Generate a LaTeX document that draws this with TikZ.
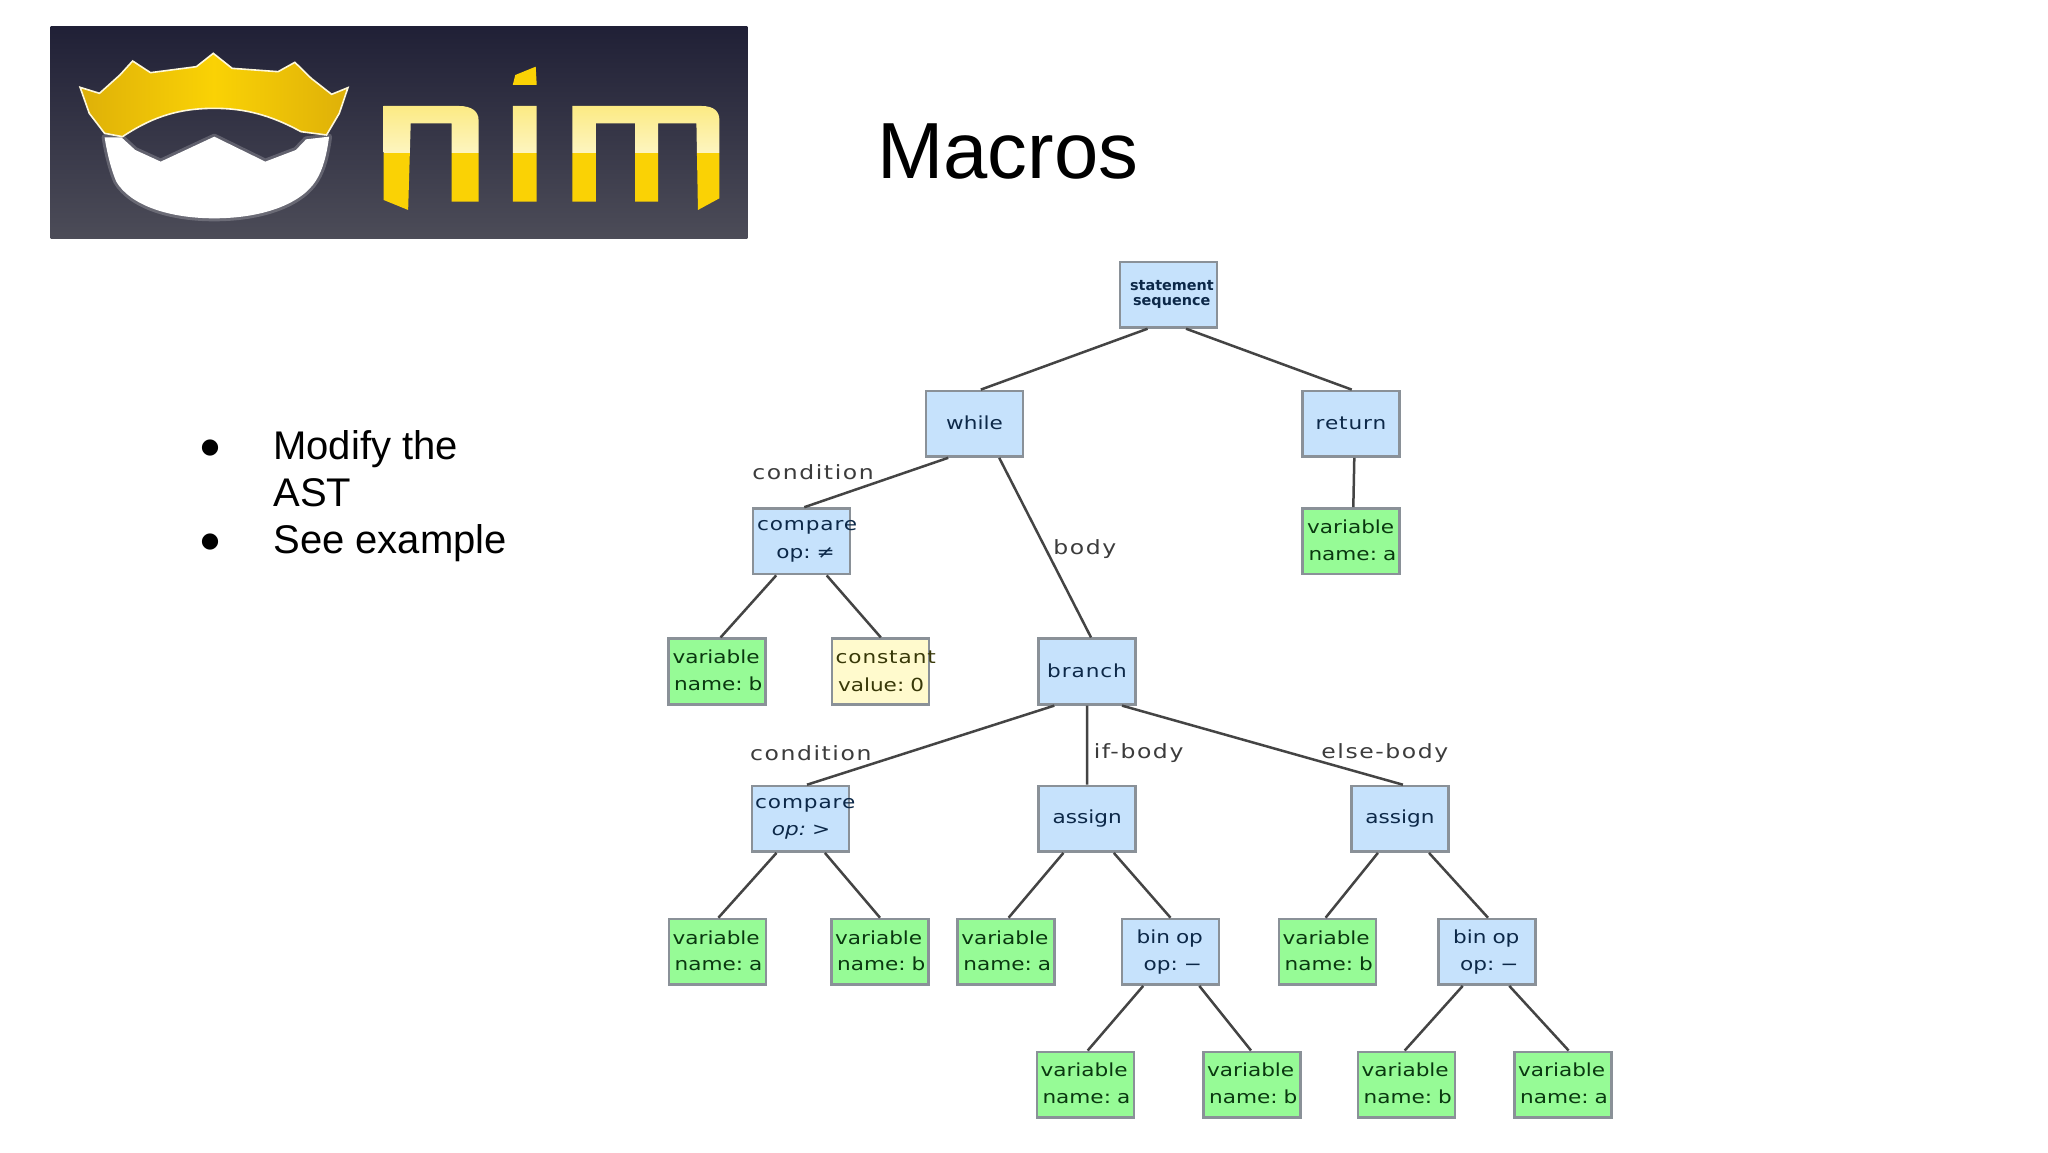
\documentclass[tikz,border=0pt]{standalone}
\usepackage{fontspec}
\setmainfont{Liberation Sans}
\newfontfamily\treefont{DejaVu Sans}[FakeStretch=1.2]
\newfontfamily\edgefont{DejaVu Sans}[FakeStretch=1.2,LetterSpace=8]
\newfontfamily\widefont{DejaVu Sans}[FakeStretch=1.2,LetterSpace=5]
\newfontfamily\dotfont{DejaVu Sans}
\usetikzlibrary{calc}
\definecolor{ast_blue}{RGB}{198, 226, 252}
\definecolor{ast_green}{RGB}{150, 251, 150}
\definecolor{ast_yellow}{RGB}{255, 250, 205}
\definecolor{ast_border}{RGB}{138, 145, 152}
\definecolor{ast_edge}{RGB}{68, 68, 68}
\definecolor{logo_top}{RGB}{32, 32, 54}
\definecolor{logo_mid}{RGB}{40, 40, 64}
\definecolor{logo_low}{RGB}{76, 76, 88}
\definecolor{gold_dark}{RGB}{222, 176, 8}
\definecolor{gold}{RGB}{250, 210, 5}
\definecolor{gold_pale}{RGB}{252, 238, 150}
\tikzset{
  box/.style={draw=ast_border, line width=1.3pt, inner sep=0pt, minimum width=48.5pt,
    minimum height=32.8pt, text width=48.5pt, font=\treefont\fontsize{9}{13.3}\selectfont},
  opnode/.style={box, fill=ast_blue, text={rgb,255:red,12;green,40;blue,72}},
  varnode/.style={box, fill=ast_green, text={rgb,255:red,10;green,56;blue,16}, align=left},
  constnode/.style={box, fill=ast_yellow, text={rgb,255:red,56;green,56;blue,8}, align=left},
  edge/.style={draw=ast_edge, line width=1.25pt},
  edgelabel/.style={anchor=base west, inner sep=0pt, text={rgb,255:red,60;green,60;blue,60},
    font=\edgefont\fontsize{9.8}{11}\selectfont},
  bullet/.style={anchor=base, inner sep=0pt, font=\dotfont\fontsize{10.6}{13}\selectfont},
  bullettext/.style={inner sep=0pt, align=left, font=\fontsize{20}{23.5}\selectfont}
}
% one line of a box: [raise], distance from the left edge of the box, text
\newcommand\tline[3][0]{\hspace*{#2pt}\raisebox{#1pt}{\mbox{#3}}}
\newcommand\varlines[3]{\tline[1.2]{#1}{variable}\\\tline[1.2]{#2}{name:~#3}}
\newcommand\treeedge[4]{\draw[edge] ($(#1.south)+(#2,0)$) -- ($(#3.north)+(#4,0)$);}
\begin{document}
\begin{tikzpicture}[x=0.5pt, y=-0.5pt]
  \useasboundingbox (0,0) rectangle (2048,1152);
  \fill[white] (0,0) rectangle (2048,1152);

  % Logo, drawn in the coordinates of the crop
  \begin{scope}[xscale=0.5102, yscale=0.3333]
    \shade[top color=logo_top, middle color=logo_mid, bottom color=logo_low]
      (99,80) rectangle (1465,717);
    % beard
    \filldraw[white, draw opacity=0.2, line width=3pt, line join=round]
      (205,412) -- (238,412) -- (265,450) -- (315,485) -- (420,410) -- (520,485)
      -- (580,450) -- (600,418) -- (645,410) .. controls (640,470) and (632,510) .. (620,540)
      .. controls (590,615) and (510,655) .. (420,655)
      .. controls (330,655) and (255,615) .. (228,545) .. controls (218,510) and (210,460) .. cycle;
    % crown
    \draw[white!85!gold, line width=0.8pt, left color=gold_dark, right color=gold_dark, middle color=gold]
      (157,262) -- (195,280) -- (235,225) -- (260,183) -- (295,218) -- (385,200) -- (418,160)
      -- (455,205) -- (545,215) -- (578,187) -- (610,235) -- (650,283) -- (682,263)
      -- (665,340) -- (640,405) -- (590,395) .. controls (530,345) and (480,325) .. (420,325)
      .. controls (340,325) and (290,360) .. (240,410) -- (205,400) -- (175,340) -- cycle;
    % letters
    \begin{scope}
      \clip (752,318) -- (900,318) .. controls (925,318) and (938,335) .. (938,360) -- (938,605)
        -- (885,605) -- (885,370) -- (805,370) -- (800,630) -- (752,600) -- cycle
        (1005,318) -- (1052,318) -- (1052,605) -- (1005,605) -- cycle
        (1122,318) -- (1375,318) .. controls (1400,318) and (1410,335) .. (1410,360) -- (1410,595)
        -- (1368,630) -- (1365,370) -- (1290,370) -- (1290,605) -- (1245,605) -- (1245,370)
        -- (1168,370) -- (1168,605) -- (1122,605) -- cycle;
      \shade[top color=gold_pale!85!gold, bottom color=gold_pale!60!white] (740,310) rectangle (1420,458);
      \fill[gold] (740,458) rectangle (1420,640);
    \end{scope}
    \fill[gold] (1005,255) -- (1010,225) -- (1050,200) -- (1052,255) -- cycle;
  \end{scope}

  % Title and list
  \node[anchor=base west, inner sep=0pt, font=\fontsize{39.8}{48}\selectfont] (title) at (877,178) {Macros};
  \node[bullet] (dota) at (210,453.7) {●};
  \node[bullettext, anchor=north west] (itema) at (273,430.5) {Modify the\\AST};
  \node[bullet] (dotb) at (210,547.7) {●};
  \node[bullettext, anchor=base west] (itemb) at (273,553) {See example};

  % Tree nodes
  \node[opnode, align=left, font=\dotfont\bfseries\fontsize{7.2}{7.8}\selectfont] (st) at (1168.6,294.6)
    {\tline{5}{statement}\\\tline{6.5}{sequence}};
  \node[opnode, align=center] (wh) at (974.5,423.7) {\raisebox{1pt}{while}};
  \node[opnode, align=center] (rt) at (1351,423.7) {{\widefont return}};
  \node[opnode, align=left] (cpa) at (801.5,541.3) {\tline[0.4]{2}{\widefont compare}\\\tline{11.7}{op:~≠}};
  \node[varnode] (vra) at (1351,541.3) {\varlines{2.3}{3}{a}};
  \node[varnode] (vb) at (717,671.5) {\varlines{2}{2.8}{b}};
  \node[constnode] (co) at (880.5,671.5) {\tline[1.2]{1.8}{\widefont constant}\\\tline[0.4]{3}{value:~0}};
  \node[opnode, align=center] (br) at (1087,671.5) {\raisebox{0.5pt}{{\widefont branch}}};
  \node[opnode, align=left] (cpb) at (800.4,818.8) {\tline[-1]{1.6}{\widefont compare}\\\tline[-0.8]{10}{{\itshape op:}~>}};
  \node[opnode, align=center] (asa) at (1087.2,818.8) {\raisebox{0.7pt}{assign}};
  \node[opnode, align=center] (asb) at (1400,818.8) {\raisebox{0.7pt}{assign}};
  \node[varnode] (lca) at (717.5,951.8) {\varlines{1.8}{2.8}{a}};
  \node[varnode] (lcb) at (880,951.8) {\varlines{1.8}{2.8}{b}};
  \node[varnode] (laa) at (1006.2,951.8) {\varlines{1.8}{2.8}{a}};
  \node[opnode, align=left] (ba) at (1170.5,951.8) {\tline[0.4]{7.3}{bin op}\\\tline[0.4]{10.8}{op:~−}};
  \node[varnode] (lab) at (1327.5,951.8) {\varlines{1.8}{2.8}{b}};
  \node[opnode, align=left] (bb) at (1487,951.8) {\tline[0.4]{7.3}{bin op}\\\tline[0.4]{10.8}{op:~−}};
  \node[varnode] (baa) at (1085.4,1084.6) {\varlines{1.8}{2.8}{a}};
  \node[varnode] (bab) at (1252,1084.6) {\varlines{1.8}{2.8}{b}};
  \node[varnode] (bbb) at (1406.5,1084.6) {\varlines{1.8}{2.8}{b}};
  \node[varnode] (bba) at (1563,1084.6) {\varlines{1.8}{2.8}{a}};

  % Tree edges
  \treeedge{st}{-21}{wh}{6.3}
  \treeedge{st}{17.4}{rt}{0.7}
  \treeedge{wh}{-26.3}{cpa}{2.8}
  \treeedge{wh}{24.7}{br}{4}
  \treeedge{rt}{3.3}{vra}{2.3}
  \treeedge{cpa}{-25.3}{vb}{3.6}
  \treeedge{cpa}{25.2}{co}{0.3}
  \treeedge{br}{-32.7}{cpb}{6.6}
  \treeedge{br}{0}{asa}{0}
  \treeedge{br}{35}{asb}{2.9}
  \treeedge{cpb}{-23.9}{lca}{0.9}
  \treeedge{cpb}{24.5}{lcb}{0}
  \treeedge{asa}{-23.8}{laa}{2.4}
  \treeedge{asa}{26.6}{ba}{0}
  \treeedge{asb}{-22.1}{lab}{-1.9}
  \treeedge{asb}{29}{bb}{1}
  \treeedge{ba}{-27.3}{baa}{2.3}
  \treeedge{ba}{28.8}{bab}{-1}
  \treeedge{bb}{-24.3}{bbb}{-1.8}
  \treeedge{bb}{22.3}{bba}{5.6}

  % Edge labels
  \node[edgelabel] (lca1) at (752,479) {condition};
  \node[edgelabel] (lbody) at (1053,554) {body};
  \node[edgelabel] (lca2) at (749.7,760.7) {condition};
  \node[edgelabel] (lif) at (1093.4,758.3) {if-body};
  \node[edgelabel] (lelse) at (1321,758.3) {else-body};
\end{tikzpicture}
\end{document}
